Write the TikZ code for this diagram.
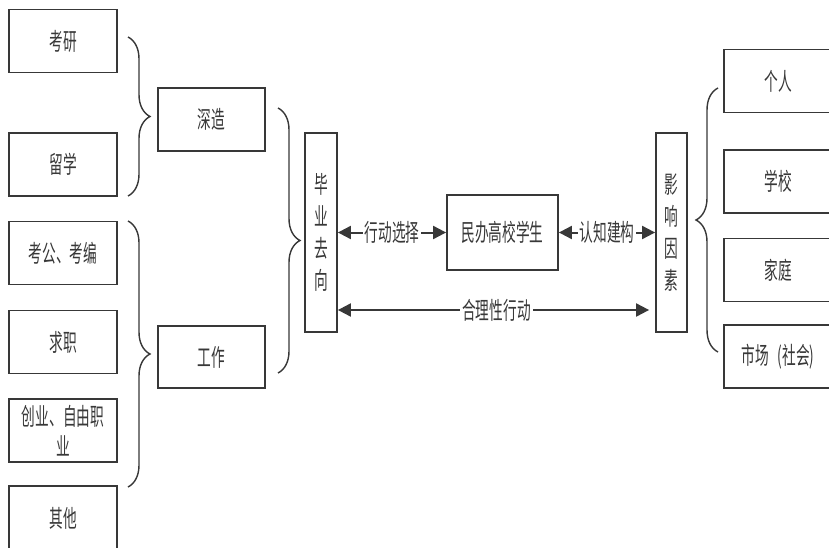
\documentclass[tikz,border=0pt]{standalone}
\usepackage{fontspec}
\newfontfamily\cjkfont[FakeStretch=0.57]{Noto Sans CJK SC}
\usetikzlibrary{arrows.meta,decorations.pathreplacing}
\definecolor{inkgray}{HTML}{383838}
\tikzset{
  box/.style={draw=inkgray, line width=1.8pt, minimum width=108pt, minimum height=63pt,
    inner sep=0pt, text=inkgray, align=center, font=\cjkfont\fontsize{24}{30}\selectfont},
  vbox/.style={box, minimum width=32pt, minimum height=199pt, font=\cjkfont\fontsize{24}{32}\selectfont},
  brc/.style={draw=inkgray, line width=1.4pt, decorate, decoration={brace, amplitude=22pt}},
  biarrow/.style={draw=inkgray, line width=2pt,
    {Triangle[length=13pt,width=13pt]}-{Triangle[length=13pt,width=13pt]}},
  lbl/.style={fill=white, text=inkgray, inner sep=2pt, font=\cjkfont\fontsize{24}{30}\selectfont}
}
\begin{document}
\begin{tikzpicture}[x=1pt, y=-1pt]
    \useasboundingbox (0,0) rectangle (829,548);
    \fill[white] (0,0) rectangle (829,548);

    % Left column: concrete choices
    \node[box] (kaoyan)   at (63,41)    {考研};
    \node[box] (liuxue)   at (63,164.5) {留学};
    \node[box] (kaogong)  at (63,253)   {考公、考编};
    \node[box] (qiuzhi)   at (63,342)   {求职};
    \node[box] (chuangye) at (63,430.5) {创业、自由职\\业};
    \node[box, minimum height=64pt] (qita) at (63,518) {其他};

    % Middle column: two paths
    \node[box, minimum width=107pt] (shenzao) at (211.5,119.5) {深造};
    \node[box, minimum width=107pt, minimum height=62pt] (gongzuo) at (211.5,357) {工作};

    % Braces
    \draw[brc] (128,37) -- (128,196);
    \draw[brc] (128,221) -- (128,487);
    \draw[brc] (278,108) -- (278,373);
    \draw[brc] (718,352) -- (718,88);

    % Core
    \node[vbox] (biye) at (321,232.5) {毕\\业\\去\\向};
    \node[box, minimum width=111pt, minimum height=75pt] (student) at (502.5,232.5) {民办高校学生};
    \node[vbox, minimum width=31pt] (yingxiang) at (671.5,232.5) {影\\响\\因\\素};

    % Arrows
    \draw[biarrow] (biye.east) -- node[lbl] {行动选择} (student.west);
    \draw[biarrow] (student.east) -- node[lbl] {认知建构} (yingxiang.west);
    \draw[biarrow, shorten >=6pt] ([yshift=-77.5pt]biye.east) -- node[lbl] {合理性行动} ([yshift=-77.5pt]yingxiang.west);

    % Right column: factors
    \node[box] (geren)    at (778,81)    {个人};
    \node[box] (xuexiao)  at (778,181.5) {学校};
    \node[box] (jiating)  at (778,270)   {家庭};
    \node[box] (shichang) at (778,356.5) {市场\hspace{9pt}(社会)};
\end{tikzpicture}
\end{document}
